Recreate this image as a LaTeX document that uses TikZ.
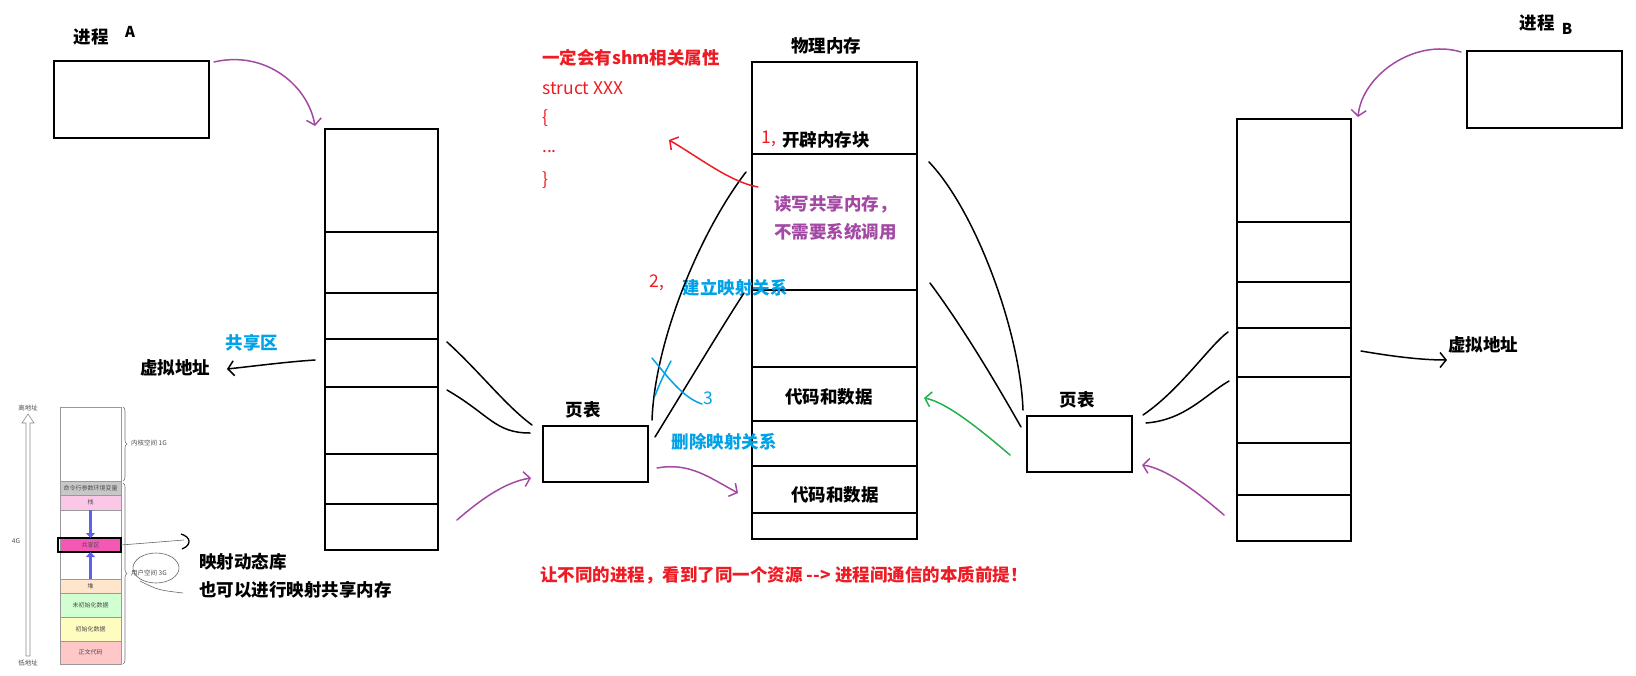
\documentclass[tikz,border=0pt]{standalone}
\usepackage{fontspec}
\setmainfont{Noto Sans CJK SC}
\usetikzlibrary{arrows.meta, positioning, calc, decorations.pathreplacing}
\definecolor{pred}{RGB}{237,28,36}
\definecolor{ppurple}{RGB}{163,73,164}
\definecolor{pblue}{RGB}{0,162,232}
\definecolor{pgreen}{RGB}{34,177,76}
\definecolor{segblue}{RGB}{95,95,235}

\begin{document}
\begin{tikzpicture}[x=1pt, y=-1pt,
    box/.style={draw, line width=2.6pt, outer sep=0pt, anchor=north west},
    cellrule/.style={line width=2.6pt},
    lbl/.style={font=\fontsize{17.5}{21}\selectfont\bfseries, inner sep=0pt},
    hand/.style={font=\fontsize{17.5}{21}\selectfont, inner sep=0pt},
    pen/.style={line width=1.5pt, line cap=round},
    tip/.style={-{Straight Barb[length=6pt, width=15pt]}},
    seg/.style={draw=black!40, line width=0.6pt, minimum width=61pt,
                outer sep=0pt, inner sep=0pt,
                font=\fontsize{6}{6}\selectfont, text=black!70},
    tiny/.style={font=\fontsize{6.5}{7}\selectfont, text=black!70, inner sep=0pt}
  ]
  \useasboundingbox (0,0) rectangle (1636,675);

  \node[box, minimum width=155pt, minimum height=77pt] (procA) at (54,61) {};
  \node[lbl] (procAname) at (91,37) {进程};
  \node[lbl, font=\fontsize{15}{18}\selectfont\bfseries] (procAid) at (130,32) {A};

  \node[box, minimum width=113pt, minimum height=421pt] (virtA) at (325,129) {};
  \foreach \y in {232,293,339,387,454,504}
    \draw[cellrule] (325,\y) -- (438,\y);
  \node[lbl, text=pblue] (shareA) at (252,343) {共享区};
  \node[lbl] (vaddrA) at (175,368) {虚拟地址};

  \node[box, minimum width=105pt, minimum height=56pt] (ptA) at (543,426) {};
  \node[lbl] (ptAname) at (583,410) {页表};

  \node[box, minimum width=165pt, minimum height=477pt] (phys) at (752,62) {};
  \foreach \y in {154,290,367,421,466,513}
    \draw[cellrule] (752,\y) -- (917,\y);
  \node[lbl] (physname) at (826,46) {物理内存};
  \node[lbl] (alloc) at (826,140) {开辟内存块};
  \node[hand, text=pred] (step1) at (769,139) {1,};
  \node[lbl, text=ppurple, anchor=west] (rw1) at (774,204) {读写共享内存，};
  \node[lbl, text=ppurple, anchor=west] (rw2) at (774,232) {不需要系统调用};
  \node[lbl] (code1) at (829,397) {代码和数据};
  \node[lbl] (code2) at (835,495) {代码和数据};

  \node[lbl, text=pred, anchor=west] (shmattr) at (542,58) {一定会有shm相关属性};
  \node[hand, text=pred, anchor=west] (structA) at (542,88) {struct XXX};
  \node[hand, text=pred, anchor=west] (lbrace) at (542,118) {\{};
  \node[hand, text=pred, anchor=west] (dots) at (542,152) {...};
  \node[hand, text=pred, anchor=west] (rbrace) at (542,180) {\}};

  \node[hand, text=pred] (step2) at (657,283) {2,};
  \node[lbl, text=pblue] (mapon) at (735,288) {建立映射关系};
  \node[hand, text=pblue] (step3) at (708,398) {3};
  \node[lbl, text=pblue] (mapoff) at (724,442) {删除映射关系};

  \node[box, minimum width=105pt, minimum height=56pt] (ptB) at (1027,416) {};
  \node[lbl] (ptBname) at (1077,400) {页表};

  \node[box, minimum width=114pt, minimum height=422pt] (virtB) at (1237,119) {};
  \foreach \y in {222,282,328,377,443,495}
    \draw[cellrule] (1237,\y) -- (1351,\y);
  \node[lbl, anchor=west] (vaddrB) at (1448,345) {虚拟地址};

  \node[box, minimum width=155pt, minimum height=77pt] (procB) at (1467,51) {};
  \node[lbl] (procBname) at (1537,23) {进程};
  \node[lbl, font=\fontsize{15}{18}\selectfont\bfseries] (procBid) at (1567,29) {B};

  \node[lbl, text=pred] (moral) at (784,575)
    {让不同的进程，看到了同一个资源 -{}-{}> 进程间通信的本质前提！};

  \coordinate (pa0) at (214,62);   \coordinate (pa1) at (315,126);
  \coordinate (va0) at (315,360);  \coordinate (va1) at (227,369);
  \coordinate (la0) at (447,342);  \coordinate (la1) at (532,425);
  \coordinate (lb0) at (447,390);  \coordinate (lb1) at (530,433);
  \coordinate (qa0) at (457,520);  \coordinate (qa1) at (531,478);
  \coordinate (ma0) at (652,420);  \coordinate (ma1) at (746,172);
  \coordinate (mb0) at (655,437);  \coordinate (mb1) at (744,293);
  \coordinate (qb0) at (657,468);  \coordinate (qb1) at (738,493);
  \coordinate (ra0) at (758,187);  \coordinate (ra1) at (669,140);
  \coordinate (mc0) at (929,162);  \coordinate (mc1) at (1023,410);
  \coordinate (md0) at (930,283);  \coordinate (md1) at (1021,427);
  \coordinate (ga0) at (1010,455); \coordinate (ga1) at (924,398);
  \coordinate (me0) at (1143,415); \coordinate (me1) at (1228,332);
  \coordinate (mf0) at (1146,423); \coordinate (mf1) at (1229,381);
  \coordinate (qc0) at (1224,515); \coordinate (qc1) at (1142,465);
  \coordinate (vb0) at (1361,351); \coordinate (vb1) at (1447,360);
  \coordinate (pb0) at (1461,52);  \coordinate (pb1) at (1358,117);

  \draw[pen, ppurple, tip] (pa0) .. controls (265,50) and (308,85) .. (pa1);
  \draw[pen, tip] (va0) .. controls (285,362) and (255,366) .. (va1);
  \draw[pen] (la0) .. controls (480,372) and (505,405) .. (la1);
  \draw[pen] (lb0) .. controls (490,415) and (495,433) .. (lb1);
  \draw[pen, ppurple, tip] (qa0) .. controls (480,500) and (505,482) .. (qa1);
  \draw[pen] (ma0) .. controls (655,340) and (700,232) .. (ma1);
  \draw[pen] (mb0) .. controls (690,380) and (720,330) .. (mb1);
  \draw[pen, ppurple, tip] (qb0) .. controls (690,462) and (710,478) .. (qb1);
  \draw[pen, pred, tip] (ra0) .. controls (730,182) and (700,158) .. (ra1);
  \draw[pen] (mc0) .. controls (975,210) and (1020,330) .. (mc1);
  \draw[pen] (md0) .. controls (965,330) and (1000,390) .. (md1);
  \draw[pen, pgreen, tip] (ga0) .. controls (975,425) and (945,402) .. (ga1);
  \draw[pen] (me0) .. controls (1180,390) and (1210,345) .. (me1);
  \draw[pen] (mf0) .. controls (1185,420) and (1205,395) .. (mf1);
  \draw[pen, ppurple, tip] (qc0) .. controls (1195,490) and (1165,468) .. (qc1);
  \draw[pen, tip] (vb0) .. controls (1390,356) and (1420,360) .. (vb1);
  \draw[pen, ppurple, tip] (pb0) .. controls (1415,38) and (1362,75) .. (pb1);

  \draw[pen, pblue] (652,358) .. controls (670,380) and (684,398) .. (702,404);
  \draw[pen, pblue] (671,361) .. controls (664,374) and (659,385) .. (655,396);

  \draw[black!45, line width=0.6pt, fill=white] (26,656) -- (26,423) -- (22,423)
    -- (28,414) -- (34,423) -- (30,423) -- (30,656) -- cycle;
  \node[tiny] (hiaddr) at (28,408) {高地址};
  \node[tiny] (loaddr) at (28,663) {低地址};
  \node[tiny] (fourG) at (16,541) {4G};

  \node[seg, minimum height=74pt, anchor=north] (kern) at (90.5,407) {};
  \node[seg, fill=black!22, minimum height=14pt, below=0pt of kern] (args) {命令行参数环境变量};
  \node[seg, fill=magenta!22, minimum height=15pt, below=0pt of args] (stk) {栈};
  \node[seg, draw=none, minimum height=28pt, below=0pt of stk] (gapdown) {};
  \node[seg, fill=magenta!65, minimum height=14pt, below=0pt of gapdown] (shm) {共享区};
  \node[seg, draw=none, minimum height=27pt, below=0pt of shm] (gapup) {};
  \node[seg, fill=orange!20, minimum height=14pt, below=0pt of gapup] (heap) {堆};
  \node[seg, fill=green!18, minimum height=24pt, below=0pt of heap] (bss) {未初始化数据};
  \node[seg, fill=yellow!25, minimum height=24pt, below=0pt of bss] (data) {初始化数据};
  \node[seg, fill=red!22, minimum height=23pt, below=0pt of data] (text) {正文代码};
  \draw[black!40, line width=0.6pt] (kern.north west) rectangle (text.south east);
  \draw[line width=1.6pt] (58,538) rectangle (121,552);
  \draw[segblue, line width=3pt, -{Triangle[length=5pt, width=9pt]}] (gapdown.north) -- (gapdown.south);
  \draw[segblue, line width=3pt, -{Triangle[length=5pt, width=9pt]}] (gapup.south) -- (gapup.north);

  \draw[black!55, line width=0.6pt, decorate, decoration={brace, amplitude=4pt}] (123,407) -- (123,481);
  \draw[black!55, line width=0.6pt, decorate, decoration={brace, amplitude=4pt}] (123,483) -- (123,664);
  \node[tiny, anchor=west] (kernlbl) at (131,443) {内核空间 1G};
  \node[tiny, anchor=west] (userlbl) at (131,573) {用户空间 3G};
  \draw[black!60, line width=0.6pt] (156,568) ellipse [x radius=23, y radius=15];
  \draw[black!60, line width=0.6pt] (140,581) .. controls (158,590) .. (183,593);

  \coordinate (dl1) at (184,540);
  \draw[black!60, line width=0.6pt] (shm.east) -- (dl1);
  \draw[line width=1.3pt] (181,534) .. controls (191,537) and (192,545) .. (182,549);
  \node[lbl, anchor=west] (dynlib) at (199,562) {映射动态库};
  \node[lbl, anchor=west] (shmmap) at (199,590) {也可以进行映射共享内存};
\end{tikzpicture}
\end{document}
